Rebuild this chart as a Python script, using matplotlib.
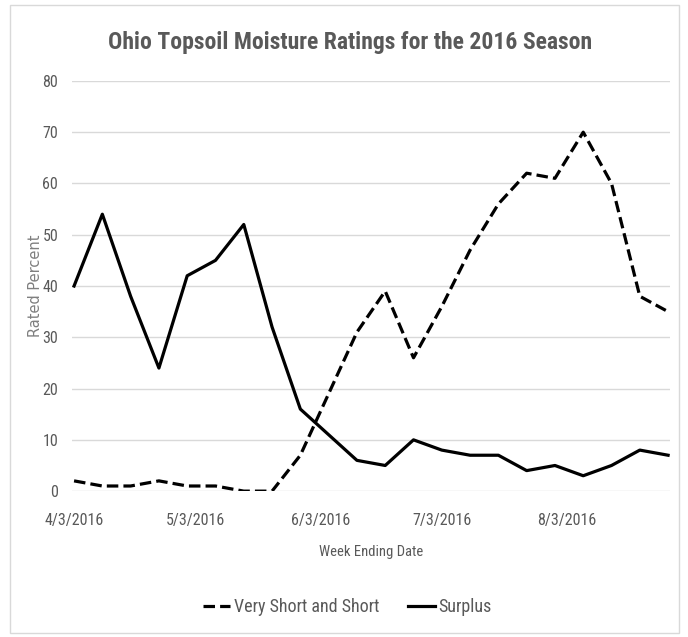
import matplotlib
matplotlib.use("Agg")
import matplotlib.pyplot as plt
from matplotlib.patches import Rectangle
import pandas as pd

# Semanas (domingo) de 3 de abril a 28 de agosto de 2016
weeks = pd.date_range("2016-04-03", periods=22, freq="7D")

very_short = [2, 1, 1, 2, 1, 1, 0, 0, 7, 19, 31, 39, 26, 36, 47, 56, 62, 61, 70, 60, 38, 35]
surplus = [40, 54, 38, 24, 42, 45, 52, 32, 16, 11, 6, 5, 10, 8, 7, 7, 4, 5, 3, 5, 8, 7]

tick_dates = pd.to_datetime(["2016-04-03", "2016-05-03", "2016-06-03", "2016-07-03", "2016-08-03"])
tick_labels = ["4/3/2016", "5/3/2016", "6/3/2016", "7/3/2016", "8/3/2016"]

plt.rcParams["font.family"] = ["Roboto Condensed", "Lato", "DejaVu Sans"]
gray = "#595959"

fig = plt.figure(figsize=(6.88, 6.37), dpi=100)
fig.patches.append(Rectangle((0.0145, 0.0063), 0.972, 0.986, transform=fig.transFigure,
                             fill=False, edgecolor="#d9d9d9", linewidth=1))
ax = fig.add_axes([0.1047, 0.229, 0.8693, 0.644])

ax.plot(weeks, very_short, color="black", linewidth=2.3, linestyle=(0, (3.6, 1.6)),
        label="Very Short and Short")
ax.plot(weeks, surplus, color="black", linewidth=2.3, label="Surplus")

ax.set_ylim(0, 80)
ax.set_yticks(range(0, 81, 10))
ax.set_xlim(weeks[0] - pd.Timedelta(hours=12), weeks[-1] + pd.Timedelta(hours=12))
ax.set_xticks(tick_dates)
ax.set_xticklabels(tick_labels)

ax.grid(axis="y", color="#d9d9d9", linewidth=1)
ax.set_axisbelow(True)
for s in ax.spines.values():
    s.set_visible(False)
ax.tick_params(length=0, labelsize=11.5, labelcolor=gray)
ax.tick_params(axis="y", pad=10)
ax.tick_params(axis="x", pad=16)

ax.set_xlabel("Week Ending Date", fontsize=10.5, color=gray, labelpad=12)
fig.text(0.051, 0.551, "Rated Percent", rotation=90, fontsize=10.5, color="#7f7f7f",
         family="DejaVu Sans", ha="center", va="center")

fig.text(0.509, 0.934, "Ohio Topsoil Moisture Ratings for the 2016 Season",
         fontsize=17, fontweight="bold", color=gray, ha="center", va="center")

fig.legend(loc="center", bbox_to_anchor=(0.505, 0.047), ncol=2, frameon=False,
           fontsize=13, labelcolor=gray, handlelength=1.5, handletextpad=0.2,
           columnspacing=1.6)

fig.savefig("out.png", dpi=100)
